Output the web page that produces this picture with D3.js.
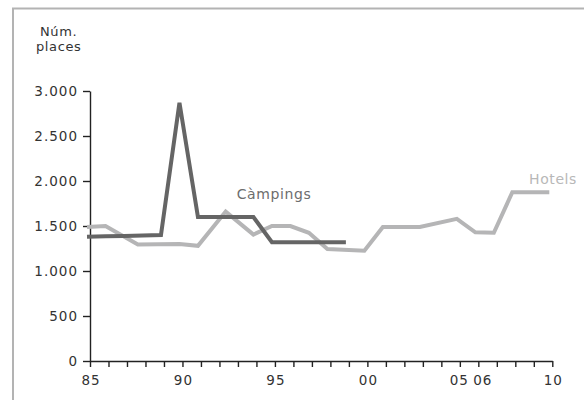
<!DOCTYPE html>
<html>
<head>
<meta charset="utf-8">
<script src="https://cdn.jsdelivr.net/npm/d3@7"></script>
<style>
  html, body { margin: 0; padding: 0; background: #fff; }
  svg { display: block; font-family: "DejaVu Sans", sans-serif; }
</style>
</head>
<body>
<svg id="chart" width="584" height="400"></svg>
<script>
// Places per establishment type, by year
const campingYears  = [1985, 1986, 1987, 1988, 1989, 1990, 1991, 1992, 1993, 1994, 1995, 1996, 1997, 1998, 1999];
const campingPlaces = [1380, 1385, 1390, 1395, 1400, 2870, 1600, 1600, 1600, 1600, 1320, 1320, 1320, 1320, 1320];

const hotelYears  = [1985, 1986, 1987.75, 1990, 1991, 1992.5, 1994, 1995, 1996, 1997, 1998, 2000, 2001, 2003, 2005, 2006, 2007, 2008, 2010];
const hotelPlaces = [1490, 1500, 1295, 1300, 1280, 1660, 1405, 1500, 1500, 1425, 1245, 1225, 1490, 1490, 1580, 1430, 1425, 1875, 1875];

const yTicks = [0, 500, 1000, 1500, 2000, 2500, 3000];
const xTickYears = d3.range(1985, 2011);
const xLabels = {1985: "85", 1990: "90", 1995: "95", 2000: "00", 2005: "05", 2006: "06", 2010: "10"};

const svg = d3.select("#chart");

// frame
svg.append("path")
  .attr("d", "M13,400 V8.5 H584")
  .attr("fill", "none")
  .attr("stroke", "#b3b3b3")
  .attr("stroke-width", 2);

const x = d3.scaleLinear().domain([1985, 2010]).range([90, 552.3]);
const y = d3.scaleLinear().domain([0, 3000]).range([361, 91]);

const locale = d3.formatLocale({decimal: ",", thousands: ".", grouping: [3], currency: ["", ""]});
const fmt = locale.format(",");

// y axis
const yAxis = svg.append("g")
  .attr("transform", "translate(90,0)")
  .call(d3.axisLeft(y).tickValues(yTicks).tickFormat(fmt).tickSize(7).tickSizeOuter(0).tickPadding(5));

// x axis
const xAxis = svg.append("g")
  .attr("transform", "translate(0,361)")
  .call(d3.axisBottom(x).tickValues(xTickYears).tickFormat(d => xLabels[d] || "").tickSize(6).tickSizeOuter(0).tickPadding(8));

[yAxis, xAxis].forEach(g => {
  g.select(".domain").attr("stroke", "#222").attr("stroke-width", 1.4);
  g.selectAll(".tick line").attr("stroke", "#222").attr("stroke-width", 1.4);
  g.selectAll(".tick text")
    .attr("fill", "#333")
    .style("font-size", "13.5px")
    .style("letter-spacing", "1px")
    .style("font-family", "'DejaVu Sans', sans-serif");
});
// the two adjacent labels 05 and 06 are nudged apart so they stay readable
xAxis.selectAll(".tick text").attr("dx", d => d === 2005 ? -1 : d === 2006 ? 4 : 0.5);

// y-axis title
const title = svg.append("text")
  .attr("fill", "#333")
  .style("font-size", "13px")
  .style("letter-spacing", "0.6px");
title.append("tspan").attr("x", 40).attr("y", 36).text("Núm.");
title.append("tspan").attr("x", 36).attr("y", 51).text("places");

// lines
const lines = svg.append("g").attr("transform", "translate(-3,0)");
const line = d3.line().x(d => x(d[0])).y(d => y(d[1]));

lines.append("path")
  .datum(hotelYears.map((yr, i) => [yr, hotelPlaces[i]]))
  .attr("d", line)
  .attr("fill", "none")
  .attr("stroke", "#b5b5b6")
  .attr("stroke-width", 4)
  .attr("stroke-linejoin", "miter");

lines.append("path")
  .datum(campingYears.map((yr, i) => [yr, campingPlaces[i]]))
  .attr("d", line)
  .attr("fill", "none")
  .attr("stroke", "#656565")
  .attr("stroke-width", 4)
  .attr("stroke-linejoin", "miter");

// series labels
svg.append("text")
  .attr("x", 274).attr("y", 199)
  .attr("text-anchor", "middle")
  .attr("fill", "#6d6d6d")
  .style("font-size", "14px")
  .style("letter-spacing", "0.6px")
  .text("Càmpings");

svg.append("text")
  .attr("x", 553).attr("y", 184)
  .attr("text-anchor", "middle")
  .attr("fill", "#b8b8b8")
  .style("font-size", "14px")
  .style("letter-spacing", "0.6px")
  .text("Hotels");
</script>
</body>
</html>
